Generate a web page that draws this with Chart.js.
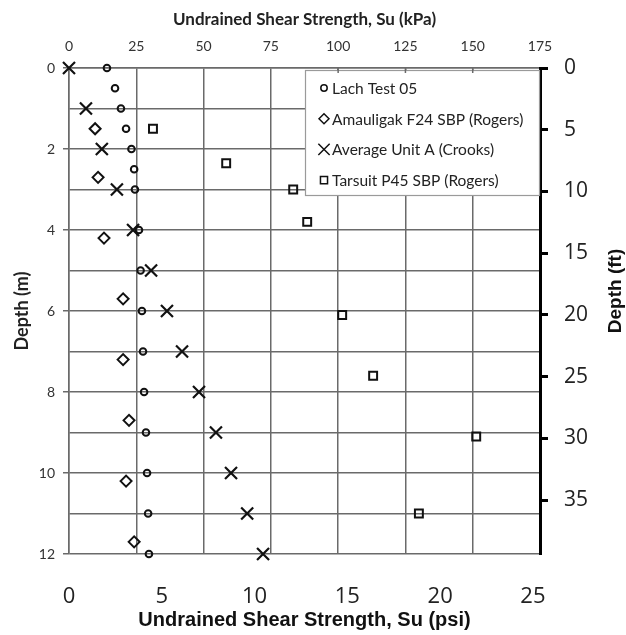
<!DOCTYPE html>
<html>
<head>
<meta charset="utf-8">
<script src="https://cdn.jsdelivr.net/npm/chart.js@4/dist/chart.umd.min.js"></script>
<style>
  html, body { margin: 0; padding: 0; background: #fff; }
  #wrap { width: 626px; height: 635px; position: relative; }
</style>
</head>
<body>
<div id="wrap"><canvas id="c"></canvas></div>
<script>
// Unit conversions for the secondary axes
const KPA_PER_PSI = 6.894757;
const M_PER_FT = 0.3048;

// Lach Test 05 (depth m, Su kPa)
const lachDepth = [0, 0.5, 1, 1.5, 2, 2.5, 3, 4, 5, 6, 7, 8, 9, 10, 11, 12];
const lachSu    = [14.1, 17.1, 19.3, 21.2, 23.2, 24.2, 24.5, 26.0, 26.6, 27.1, 27.5, 27.9, 28.6, 29.0, 29.4, 29.7];

// Amauligak F24 SBP (Rogers)
const amauDepth = [1.5, 2.7, 4.2, 5.7, 7.2, 8.7, 10.2, 11.7];
const amauSu    = [9.7, 10.8, 13.0, 20.1, 20.1, 22.3, 21.2, 24.2];

// Average Unit A (Crooks)
const crooksDepth = [0, 1, 2, 3, 4, 5, 6, 7, 8, 9, 10, 11, 12];
const crooksSu    = [0, 6.3, 12.2, 17.8, 23.8, 30.5, 36.4, 42.0, 48.3, 54.6, 60.2, 66.2, 72.1];

// Tarsuit P45 SBP (Rogers)
const tarsDepth = [1.5, 2.35, 3.0, 3.8, 6.1, 7.6, 9.1, 11.0];
const tarsSu    = [31.2, 58.4, 83.3, 88.5, 101.5, 113.0, 151.3, 130.0];

// Tick values
const kpaTicks = [0, 25, 50, 75, 100, 125, 150, 175];
const psiTicks = [0, 5, 10, 15, 20, 25];
const depthMTicks = [0, 1, 2, 3, 4, 5, 6, 7, 8, 9, 10, 11, 12];
const depthFtTicks = [0, 5, 10, 15, 20, 25, 30, 35];

const GRID = '#6a6a6a';
const INK = '#111';

const pts = (xs, ys) => xs.map((x, i) => ({ x: x, y: ys[i] }));
const fixTicks = list => scale => { scale.ticks = list.map(v => ({ value: v })); };

const series = [
  { label: 'Lach Test 05', data: pts(lachSu, lachDepth), pointStyle: 'circle', radius: 3.3, bw: 2, lr: 3.2 },
  { label: 'Amauligak F24 SBP (Rogers)', data: pts(amauSu, amauDepth), pointStyle: 'rectRot', radius: 5.5, bw: 2, lr: 5 },
  { label: 'Average Unit A (Crooks)', data: pts(crooksSu, crooksDepth), pointStyle: 'crossRot', radius: 8.5, bw: 2.2, lr: 8 },
  { label: 'Tarsuit P45 SBP (Rogers)', data: pts(tarsSu, tarsDepth), pointStyle: 'rect', radius: 5.6, bw: 2, lr: 5 }
];

// In-plot legend box and the right-hand axis title
const overlay = {
  id: 'overlay',
  afterDraw(chart) {
    const ctx = chart.ctx;
    const area = chart.chartArea;
    const bx = 305, by = area.top + 2, bw = area.right - 1 - bx, bh = 125;
    ctx.save();
    ctx.fillStyle = '#fff';
    ctx.fillRect(bx, by, bw, bh);
    ctx.strokeStyle = '#9a9a9a';
    ctx.lineWidth = 1.2;
    ctx.strokeRect(bx + 0.5, by + 0.5, bw, bh);
    // inward tick marks of the kPa axis that show inside the legend box
    ctx.strokeStyle = GRID;
    ctx.lineWidth = 1.5;
    const kpa = chart.scales.kpa;
    kpaTicks.forEach(v => {
      const x = kpa.getPixelForValue(v);
      if (x > bx + 2 && x < area.right - 3) {
        ctx.beginPath(); ctx.moveTo(x, area.top); ctx.lineTo(x, area.top + 5); ctx.stroke();
      }
    });
    ctx.font = '15.5px Lato';
    ctx.textBaseline = 'middle';
    series.forEach((s, i) => {
      const y = by + 18 + i * 30.7;
      ctx.strokeStyle = INK;
      ctx.fillStyle = '#fff';
      Chart.helpers.drawPoint(ctx, { pointStyle: s.pointStyle, radius: s.lr, borderWidth: 1.8, rotation: 0 }, 324, y);
      ctx.fillStyle = '#222';
      ctx.fillText(s.label, 332, y + 1);
    });
    ctx.translate(616, 291);
    ctx.rotate(-Math.PI / 2);
    ctx.textAlign = 'center';
    ctx.font = 'bold 19px "Liberation Sans"';
    ctx.fillStyle = INK;
    ctx.fillText('Depth (ft)', 0, 0);
    ctx.restore();
  }
};

new Chart(document.getElementById('c'), {
  type: 'scatter',
  data: {
    datasets: series.map(s => ({
      label: s.label,
      data: s.data,
      xAxisID: 'kpa',
      yAxisID: 'm',
      clip: false,
      pointStyle: s.pointStyle,
      pointRadius: s.radius,
      pointBorderWidth: s.bw,
      borderColor: INK,
      backgroundColor: 'rgba(255,255,255,0)',
      showLine: false
    }))
  },
  options: {
    responsive: true,
    maintainAspectRatio: false,
    animation: false,
    layout: { padding: 0 },
    plugins: { legend: { display: false }, tooltip: { enabled: false } },
    scales: {
      kpa: {
        type: 'linear', axis: 'x', position: 'top', min: 0, max: 175,
        afterBuildTicks: fixTicks(kpaTicks),
        afterFit: s => { s.height = 68; },
        grid: { color: GRID, lineWidth: 1.5, drawTicks: false },
        border: { color: GRID, width: 1.5 },
        ticks: { autoSkip: false, maxRotation: 0, padding: 13, color: '#333', font: { family: 'Lato', size: 14 } },
        title: { display: true, text: 'Undrained Shear Strength, Su (kPa)', color: '#222',
                 font: { family: 'Lato', size: 17, weight: 'bold' }, padding: { top: 9, bottom: 0 } }
      },
      psi: {
        type: 'linear', axis: 'x', position: 'bottom', min: 0, max: 175 / KPA_PER_PSI,
        afterBuildTicks: fixTicks(psiTicks),
        afterFit: s => { s.height = 81; },
        grid: { display: false, drawTicks: false },
        border: { display: false },
        ticks: { autoSkip: false, maxRotation: 0, padding: 30, color: '#222', font: { family: 'Open Sans', size: 22 } },
        title: { display: true, text: 'Undrained Shear Strength, Su (psi)', color: INK,
                 font: { family: 'Liberation Sans', size: 20, weight: 'bold' }, padding: { top: 0, bottom: 3 } }
      },
      m: {
        type: 'linear', axis: 'y', position: 'left', reverse: true, min: 0, max: 12,
        afterBuildTicks: fixTicks(depthMTicks),
        afterFit: s => { s.width = 69; },
        grid: { color: GRID, lineWidth: 1.5, tickLength: 6,
                tickColor: c => (c.tick && c.tick.value % 2 === 0) ? GRID : 'rgba(0,0,0,0)' },
        border: { color: GRID, width: 1.5 },
        ticks: { autoSkip: false, padding: 8, color: '#333', font: { family: 'Lato', size: 14 },
                 callback: v => (v % 2 === 0 ? String(v) : '') },
        title: { display: true, text: 'Depth (m)', color: '#222',
                 font: { family: 'Lato', size: 18, weight: 'bold' }, padding: { top: 11, bottom: 0 } }
      },
      ft: {
        type: 'linear', axis: 'y', position: 'right', reverse: true, min: 0, max: 12 / M_PER_FT,
        afterBuildTicks: fixTicks(depthFtTicks),
        afterFit: s => { s.width = 86; },
        grid: { drawOnChartArea: false, tickLength: 8, tickWidth: 3, tickColor: '#000' },
        border: { color: '#000', width: 3 },
        ticks: { autoSkip: false, padding: 16, color: '#222', font: { family: 'Open Sans', size: 21 } }
      }
    }
  },
  plugins: [overlay]
});
</script>
</body>
</html>
